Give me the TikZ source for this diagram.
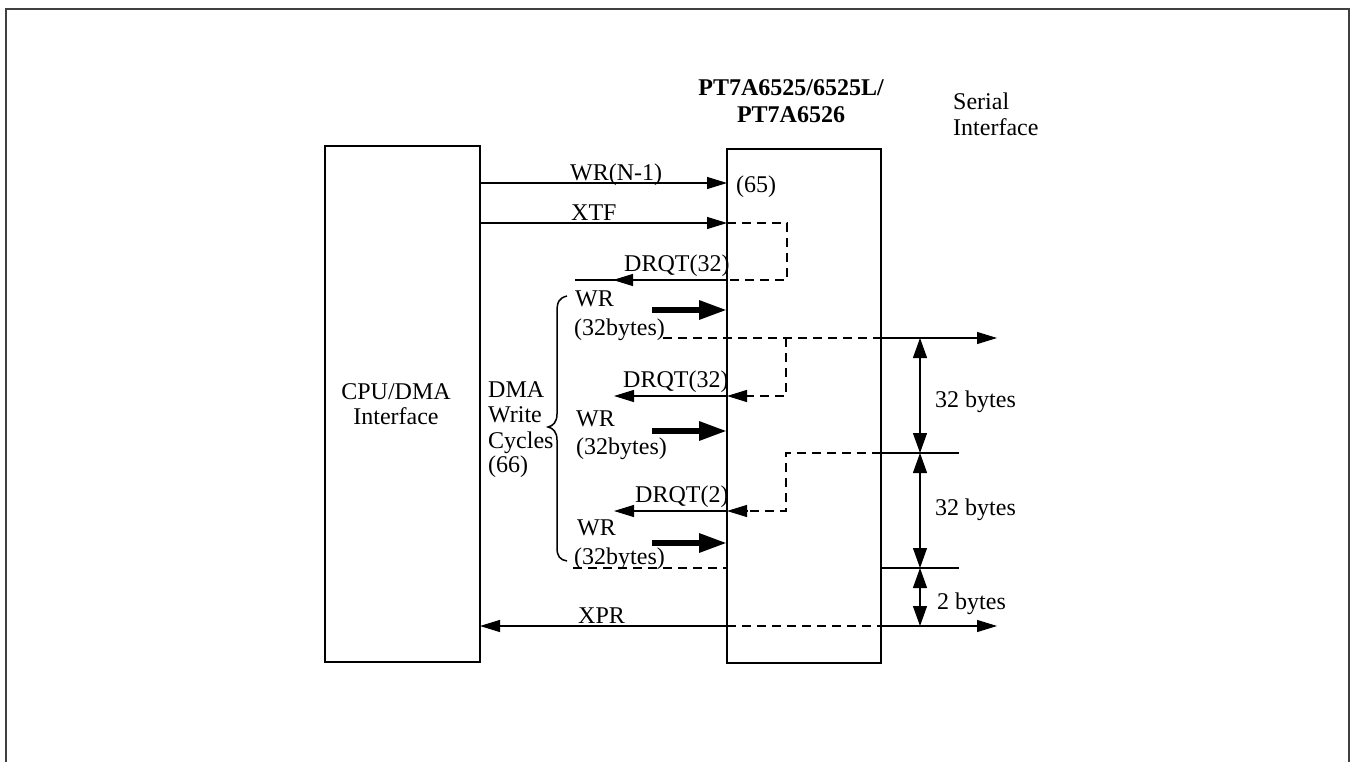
\documentclass[tikz,border=0pt]{standalone}
\usepackage{fontspec}
\setmainfont{Liberation Serif}
\usetikzlibrary{arrows.meta}
\begin{document}
\begin{tikzpicture}[x=1pt,y=-1pt,
  txt/.style={font=\fontsize{24}{25}\selectfont, inner sep=0pt, anchor=base west},
  ctxt/.style={font=\fontsize{24}{25}\selectfont, inner sep=0pt, align=center},
  blk/.style={draw, line width=2.5pt, inner sep=0pt, outer sep=0pt, anchor=north west},
  sig/.style={line width=1.2pt},
  tip/.style={-{Triangle[length=20pt,width=12pt]}},
  lefttip/.style={{Triangle[length=20pt,width=12pt]}-},
  dimtip/.style={{Triangle[length=20pt,width=14pt]}-{Triangle[length=20pt,width=14pt]}},
  dsh/.style={line width=1.2pt, dash pattern=on 9pt off 6pt},
  fat/.style={line width=6pt, -{Triangle[length=28pt,width=18pt]}},
  frame/.style={line width=2pt, draw=black!75}
]
\useasboundingbox (0,0) rectangle (1351,762);
% outer frame
\draw[frame] (6,775) -- (6,9) -- (1349,9) -- (1349,775);

% blocks
\node[blk, minimum width=155pt, minimum height=516pt] (cpu) at (325,146) {};
\node[blk, minimum width=154pt, minimum height=514pt] (chip) at (727,149) {};
\node[ctxt] (cpulbl) at (396,404) {CPU/DMA\\Interface};
\node[ctxt, font=\fontsize{24}{27}\selectfont\bfseries] (chiplbl) at (791,101) {PT7A6525/6525L/\\PT7A6526};
\node[txt] (serial) at (953,110) {Serial};
\node[txt] (serial2) at (953,136) {Interface};

% coordinates
\coordinate (a1) at (cpu.east |- 0,183);
\coordinate (b1) at (chip.west |- 0,183);
\coordinate (a2) at (cpu.east |- 0,223);
\coordinate (b2) at (chip.west |- 0,223);
\coordinate (l1) at (787,223);
\coordinate (l2) at (787,280);
\coordinate (b3) at (chip.west |- 0,280);
\coordinate (e3) at (575,280);
\coordinate (t3) at (633,280);
\coordinate (t3b) at (613,280);
\coordinate (d1) at (663,338);
\coordinate (d1b) at (chip.east |- 0,338);
\coordinate (o1) at (997,338);
\coordinate (m1) at (786,338);
\coordinate (m2) at (786,396);
\coordinate (b4) at (chip.west |- 0,396);
\coordinate (e4) at (614,396);
\coordinate (n1) at (786,511);
\coordinate (n0) at (786,453);
\coordinate (n0b) at (chip.east |- 0,453);
\coordinate (o2) at (959,453);
\coordinate (b5) at (chip.west |- 0,511);
\coordinate (e5) at (614,511);
\coordinate (u1) at (573,568);
\coordinate (u2) at (chip.west |- 0,568);
\coordinate (u3) at (chip.east |- 0,568);
\coordinate (o3) at (959,568);
\coordinate (x1) at (cpu.east |- 0,626);
\coordinate (x2) at (chip.west |- 0,626);
\coordinate (x3) at (chip.east |- 0,626);
\coordinate (o4) at (997,626);
\coordinate (w1s) at (652,310);
\coordinate (w1e) at (chip.west |- 0,310);
\coordinate (w2s) at (652,431);
\coordinate (w2e) at (chip.west |- 0,431);
\coordinate (w3s) at (652,543);
\coordinate (w3e) at (chip.west |- 0,543);
\coordinate (k1) at (920,338);
\coordinate (k2) at (920,453);
\coordinate (k3) at (920,568);
\coordinate (k4) at (920,626);

% WR(N-1) and XTF
\draw[sig, tip] (a1) -- (b1);
\draw[sig, tip] (a2) -- (b2);
\node[txt] (lwr) at (570,181) {WR(N-1)};
\node[txt] (l65) at (736,193) {(65)};
\node[txt] (lxtf) at (571,220) {XTF};

% first DRQT(32)
\draw[dsh] (b2) -- (l1) -- (l2) -- (b3);
\draw[sig] (b3) -- (e3);
\draw[sig, tip] (t3) -- (t3b);
\node[txt] (ldr1) at (624,271) {DRQT(32)};

% fat WR arrows
\draw[fat] (w1s) -- (w1e);
\draw[fat] (w2s) -- (w2e);
\draw[fat] (w3s) -- (w3e);
\node[txt] (lw1) at (575,306) {WR};
\node[txt] (lb1) at (574,335) {(32bytes)};
\node[txt] (lw2) at (576,426) {WR};
\node[txt] (lb2) at (576,454) {(32bytes)};
\node[txt] (lw3) at (577,535) {WR};
\node[txt] (lb3) at (574,564) {(32bytes)};

% serial boundaries
\draw[dsh] (d1) -- (d1b);
\draw[sig, tip] (d1b) -- (o1);
\draw[dsh] (m1) -- (m2) -- ([xshift=20pt]b4);
\draw[sig, tip] ([xshift=20pt]b4) -- (b4);
\draw[sig, tip] (b4) -- (e4);
\node[txt] (ldr2) at (623,387) {DRQT(32)};

\draw[dsh] (n0b) -- (n0) -- (n1) -- ([xshift=20pt]b5);
\draw[sig, tip] ([xshift=20pt]b5) -- (b5);
\draw[sig] (n0b) -- (o2);
\draw[sig, tip] (b5) -- (e5);
\node[txt] (ldr3) at (635,502) {DRQT(2)};

\draw[dsh] (u1) -- (u2);
\draw[sig] (u3) -- (o3);

% XPR
\draw[sig, lefttip] (x1) -- (x2);
\draw[dsh] (x2) -- (x3);
\draw[sig, tip] (x3) -- (o4);
\node[txt] (lxpr) at (578,623) {XPR};

% dimension arrows
\draw[sig, dimtip] (k1) -- (k2);
\draw[sig, dimtip] (k2) -- (k3);
\draw[sig, dimtip] (k3) -- (k4);
\node[txt] (ld1) at (935,407) {32 bytes};
\node[txt] (ld2) at (935,515) {32 bytes};
\node[txt] (ld3) at (937,609) {2 bytes};

% brace and its label
\draw[line width=1.5pt] (567,296) .. controls (559,298) and (557,302) .. (557,312)
  -- (557,414) .. controls (557,422) and (553,426) .. (548,427)
  .. controls (553,428) and (557,432) .. (557,440)
  -- (557,548) .. controls (557,556) and (560,560) .. (567,561);
\node[txt] (lc1) at (488,397) {DMA};
\node[txt] (lc2) at (488,422) {Write};
\node[txt] (lc3) at (488,448) {Cycles};
\node[txt] (lc4) at (488,472) {(66)};
\end{tikzpicture}
\end{document}
